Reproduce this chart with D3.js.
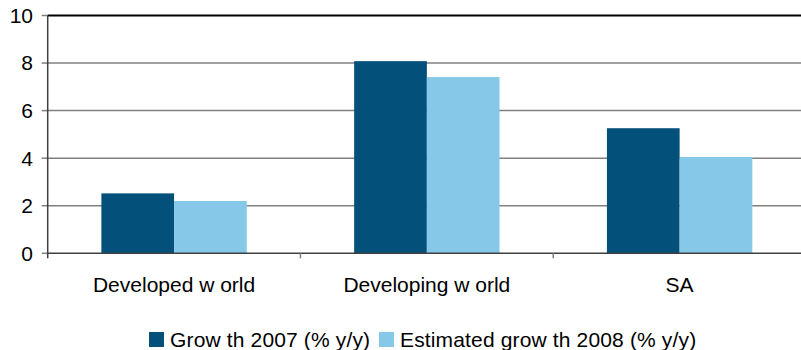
<!DOCTYPE html>
<html>
<head>
<meta charset="utf-8">
<script src="https://cdn.jsdelivr.net/npm/d3@7"></script>
<style>
  body { margin: 0; background: #fff; }
  svg { display: block; font-family: "Liberation Sans", Arial, sans-serif; }
</style>
</head>
<body>
<svg id="chart" width="801" height="350"></svg>
<script>
const categories = ["Developed w orld", "Developing w orld", "SA"];
const seriesNames = ["Grow th 2007 (% y/y)", "Estimated grow th 2008 (% y/y)"];
const growth2007 = [2.52, 8.08, 5.26];
const growth2008 = [2.2, 7.41, 4.05];
const yTicks = [0, 2, 4, 6, 8, 10];
const colors = ["#03507a", "#86c8e8"];

(function () {
const svg = d3.select("#chart");
const pLeft = 47.7, pRight = 806, pTop = 15.5, pBottom = 253.3;

const x0 = d3.scaleBand().domain(categories).range([pLeft, pRight]).padding(0);
const x1 = d3.scaleBand().domain(seriesNames).range([0, x0.bandwidth()]).paddingInner(0).paddingOuter(0.7385);
const y = d3.scaleLinear().domain([0, 10]).range([pBottom, pTop]);

const seriesValues = [growth2007, growth2008];

// gridlines
svg.append("g").selectAll("line").data(yTicks.filter(t => t > 0 && t < 10)).join("line")
  .attr("x1", pLeft).attr("x2", 801)
  .attr("y1", d => y(d)).attr("y2", d => y(d))
  .attr("stroke", "#808080").attr("stroke-width", 1.5);

// y ticks
svg.append("g").selectAll("line").data(yTicks).join("line")
  .attr("x1", pLeft - 6).attr("x2", pLeft)
  .attr("y1", d => y(d)).attr("y2", d => y(d))
  .attr("stroke", "#808080").attr("stroke-width", 1.5);

// y labels
svg.append("g").selectAll("text").data(yTicks).join("text")
  .attr("x", 33).attr("y", d => y(d)).attr("dy", "0.35em")
  .attr("text-anchor", "end").attr("font-size", 21).attr("fill", "#000")
  .text(d => d);

// bars
const g = svg.append("g");
categories.forEach((c, i) => {
  seriesNames.forEach((s, j) => {
    const v = seriesValues[j][i];
    g.append("rect")
      .attr("x", x0(c) + x1(s))
      .attr("y", y(v))
      .attr("width", x1.bandwidth())
      .attr("height", y(0) - y(v))
      .attr("fill", colors[j]);
  });
});

// top border
svg.append("line").attr("x1", pLeft).attr("x2", 801).attr("y1", pTop).attr("y2", pTop)
  .attr("stroke", "#000").attr("stroke-width", 2);

// baseline
svg.append("line").attr("x1", pLeft).attr("x2", 801).attr("y1", pBottom).attr("y2", pBottom)
  .attr("stroke", "#404040").attr("stroke-width", 1.5);

// y axis line
svg.append("line").attr("x1", pLeft).attr("x2", pLeft).attr("y1", pTop).attr("y2", pBottom + 5)
  .attr("stroke", "#404040").attr("stroke-width", 1.5);

// category ticks
const bounds = categories.slice(1).map(c => x0(c));
svg.append("g").selectAll("line").data(bounds).join("line")
  .attr("x1", d => d).attr("x2", d => d)
  .attr("y1", pBottom).attr("y2", pBottom + 5)
  .attr("stroke", "#808080").attr("stroke-width", 1.5);

// category labels
svg.append("g").selectAll("text").data(categories).join("text")
  .attr("x", d => x0(d) + x0.bandwidth() / 2)
  .attr("y", 291.5)
  .attr("text-anchor", "middle").attr("font-size", 21).attr("fill", "#000")
  .text(d => d);

// legend
const legendItems = [
  { name: seriesNames[0], color: colors[0], sx: 149, tx: 170 },
  { name: seriesNames[1], color: colors[1], sx: 379, tx: 400 }
];
const lg = svg.append("g");
legendItems.forEach(it => {
  lg.append("rect").attr("x", it.sx).attr("y", 332).attr("width", 15).attr("height", 15).attr("fill", it.color);
  lg.append("text").attr("x", it.tx).attr("y", 346.5).attr("font-size", 21).attr("fill", "#000")
    .attr("letter-spacing", 0.15).text(it.name);
});
})();
</script>
</body>
</html>
